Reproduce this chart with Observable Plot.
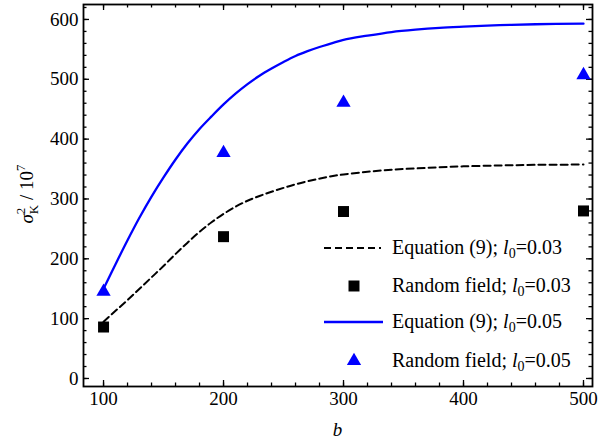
<!DOCTYPE html>
<html>
<head>
<meta charset="utf-8">
<script src="https://cdn.jsdelivr.net/npm/d3@7"></script>
<script src="https://cdn.jsdelivr.net/npm/@observablehq/plot@0.6"></script>
<style>
  html, body { margin: 0; padding: 0; background: #fff; }
  #chart svg { display: block; }
  #chart svg text { font-family: "Liberation Serif", "DejaVu Serif", serif; }
</style>
</head>
<body>
<div id="chart"></div>
<script>
// ---- data ----
const curveB = [100,110,120,130,140,150,160,170,180,190,200,210,220,230,240,250,260,270,280,290,300,320,340,360,380,400,430,460,500];
const eqL003 = [95,113,131,150,169,188,208,227,245,261,275,287,297,305,312,318.5,324.5,329.5,334,338,341,345.5,349,351,353,354.5,356,357,357.5];
const eqL005 = [150,191,231,269,304,336,366,393,417,438,458,476,492,506,518,529,539,547,554,560,566,573,579,583,586,588,590.5,592,593];
const rfB = [100,200,300,500];
const rfL003 = [86,237,279,280];
const rfL005 = [145,377,461,507];
const xTicks = [100,200,300,400,500];
const yTicks = [0,100,200,300,400,500,600];
const xMinor = d3.range(100, 501, 20);
const yMinor = d3.range(0, 621, 20);
const legendLabels = ["Equation (9); ", "Random field; ", "Equation (9); ", "Random field; "];
const legendL0 = ["0.03", "0.03", "0.05", "0.05"];

const eq1 = curveB.map((b, i) => ({b, v: eqL003[i]}));
const eq2 = curveB.map((b, i) => ({b, v: eqL005[i]}));
const rf1 = rfB.map((b, i) => ({b, v: rfL003[i]}));
const rf2 = rfB.map((b, i) => ({b, v: rfL005[i]}));

const W = 616, H = 443;
const mL = 83, mR = 24, mT = 4, mB = 57;
const pW = W - mL - mR, pH = H - mT - mB;
const majLen = 6, minLen = 3.5;
const BLUE = "#0000ff";
const FONT = "'Liberation Serif', 'DejaVu Serif', serif";

const tickStyle = {stroke: "black", strokeWidth: 1.3};
function xTickMarks(vals, len) {
  return [
    Plot.tickX(vals, {x: d => d, insetTop: pH - len, ...tickStyle}),
    Plot.tickX(vals, {x: d => d, insetBottom: pH - len, ...tickStyle})
  ];
}
function yTickMarks(vals, len) {
  return [
    Plot.tickY(vals, {y: d => d, insetRight: pW - len, ...tickStyle}),
    Plot.tickY(vals, {y: d => d, insetLeft: pW - len, ...tickStyle})
  ];
}

const plot = Plot.plot({
  width: W, height: H,
  marginLeft: mL, marginRight: mR, marginTop: mT, marginBottom: mB,
  style: {fontFamily: FONT, fontSize: "19px", background: "white", color: "black"},
  x: {domain: [83.3, 507.5], ticks: xTicks, label: null},
  y: {domain: [-13.4, 625], ticks: yTicks, label: null},
  marks: [
    Plot.axisX(xTicks, {tickSize: 0, tickPadding: 5, fontSize: 19, label: null}),
    Plot.axisY(yTicks, {tickSize: 0, tickPadding: 5, fontSize: 19, label: null}),
    ...xTickMarks(xMinor, minLen),
    ...xTickMarks(xTicks, majLen),
    ...yTickMarks(yMinor, minLen),
    ...yTickMarks(yTicks, majLen),
    Plot.line(eq2, {x: "b", y: "v", stroke: BLUE, strokeWidth: 2.3, curve: "catmull-rom"}),
    Plot.line(eq1, {x: "b", y: "v", stroke: "black", strokeWidth: 2, strokeDasharray: "7,4", curve: "catmull-rom"}),
    Plot.dot(rf1, {x: "b", y: "v", symbol: "square", r: 6.2, fill: "black", stroke: "none"}),
    Plot.dot(rf2, {x: "b", y: "v", symbol: "triangle", r: 5.3, fill: BLUE, stroke: "none"}),
    Plot.frame({stroke: "black", strokeWidth: 1.8})
  ]
});

document.getElementById("chart").appendChild(plot);

const svg = d3.select(plot);

// x label
svg.append("text")
  .attr("x", mL + pW / 2).attr("y", 436)
  .attr("text-anchor", "middle")
  .style("font-family", FONT).attr("font-size", 19).attr("font-style", "italic")
  .text("b");

// y label: σ²_K / 10^7
const yl = svg.append("text")
  .attr("transform", `translate(33,${mT + pH / 2 - 1}) rotate(-90)`)
  .attr("text-anchor", "middle")
  .style("font-family", FONT).attr("font-size", 19);
yl.append("tspan").attr("font-style", "italic").text("σ");
yl.append("tspan").attr("font-size", 13).attr("dy", -8).text("2");
yl.append("tspan").attr("font-size", 13).attr("dx", -6.5).attr("dy", 13).text("K");
yl.append("tspan").attr("dy", -5).text(" / 10");
yl.append("tspan").attr("font-size", 13).attr("dy", -8).text("7");

// legend
const rowsY = [248, 286, 322, 361];
const lg = svg.append("g").style("font-family", FONT).attr("font-size", 20).attr("text-anchor", "start");
const symSquare = d3.symbol(d3.symbolSquare, Math.PI * 6.2 * 6.2)();
const symTri = d3.symbol(d3.symbolTriangle, Math.PI * 5.3 * 5.3)();
rowsY.forEach((ry, i) => {
  if (i === 0) {
    lg.append("line").attr("x1", 324).attr("x2", 381).attr("y1", ry).attr("y2", ry)
      .attr("stroke", "black").attr("stroke-width", 2).attr("stroke-dasharray", "7,4");
  } else if (i === 2) {
    lg.append("line").attr("x1", 324).attr("x2", 383).attr("y1", ry).attr("y2", ry)
      .attr("stroke", BLUE).attr("stroke-width", 2.3);
  } else if (i === 1) {
    lg.append("path").attr("d", symSquare).attr("transform", `translate(354,${ry})`).attr("fill", "black");
  } else {
    lg.append("path").attr("d", symTri).attr("transform", `translate(354,${ry})`).attr("fill", BLUE);
  }
  const t = lg.append("text").attr("x", 392).attr("y", ry + 6).attr("text-anchor", "start")
    .style("font-family", FONT);
  t.append("tspan").text(legendLabels[i]);
  t.append("tspan").attr("font-style", "italic").text("l");
  t.append("tspan").attr("font-size", 14).attr("dy", 4).text("0");
  t.append("tspan").attr("dy", -4).text("=" + legendL0[i]);
});
</script>
</body>
</html>
